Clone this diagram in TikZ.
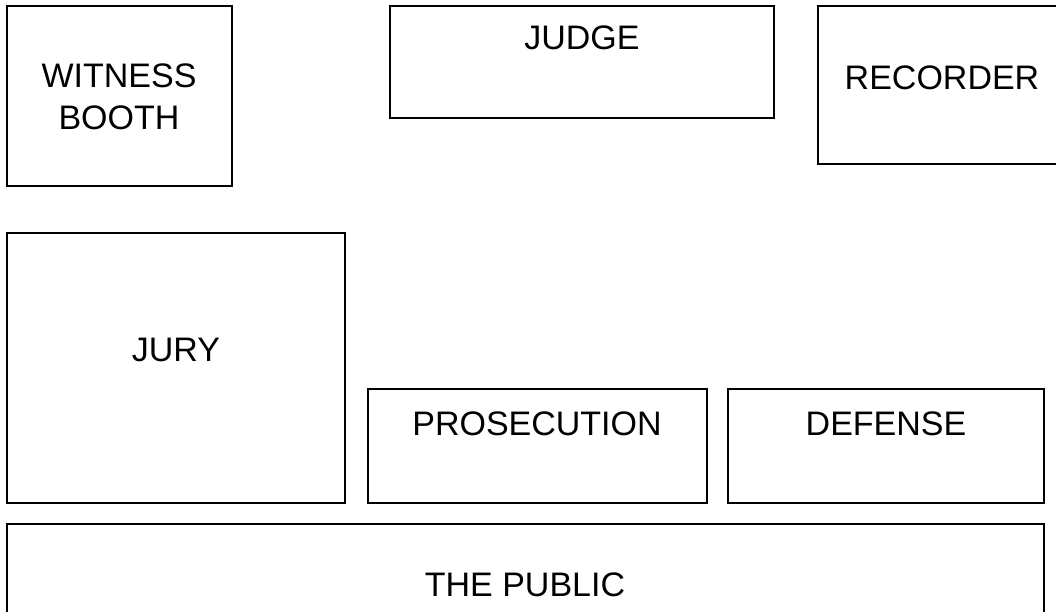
\documentclass[tikz,border=0pt]{standalone}
\usepackage{fontspec}
\setmainfont{Liberation Sans}
\usepackage{tikz}

\begin{document}
\begin{tikzpicture}[x=1pt, y=-1pt, line width=1.8pt, font=\fontsize{34}{42}\selectfont]
			\clip (0,0) rectangle (1056,611);
			\fill[white] (0,0) rectangle (1056,611);
			
			\draw (7,6) rectangle (232,186)  (390,6) rectangle (774,118)  (818,6) rectangle (1066,164);
			\draw (7,233) rectangle (345,503)  (368,389) rectangle (707,503)  (728,389) rectangle (1044,503);
			\draw (7,524) rectangle (1044,640);
			\node[align=center] (witness) at (119,97){WITNESS\\BOOTH};
			\node (judge) at (582,38){JUDGE};
			\node (recorder) at (942,78){RECORDER};
			\node (jury) at (176,350){JURY};
			\node (prosecution) at (537,424){PROSECUTION};
			\node (defense) at (886,424){DEFENSE};
			\node (public) at (525,585){THE PUBLIC};
		\end{tikzpicture}
\end{document}
